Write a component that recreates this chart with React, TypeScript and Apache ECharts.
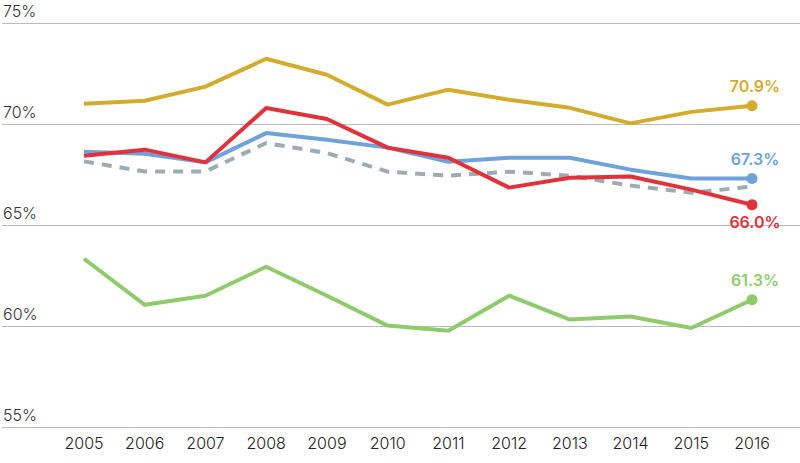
import React, { useEffect, useRef } from "react";
import * as echarts from "echarts";

const years = ["2005", "2006", "2007", "2008", "2009", "2010", "2011", "2012", "2013", "2014", "2015", "2016"];
const goldValues = [71.0, 71.15, 71.85, 73.23, 72.44, 70.96, 71.7, 71.2, 70.8, 70.03, 70.6, 70.9];
const blueValues = [68.63, 68.53, 68.1, 69.55, 69.22, 68.83, 68.13, 68.33, 68.33, 67.74, 67.3, 67.3];
const redValues = [68.43, 68.73, 68.1, 70.79, 70.25, 68.83, 68.33, 66.85, 67.34, 67.4, 66.75, 66.0];
const greyValues = [68.15, 67.65, 67.65, 69.06, 68.56, 67.64, 67.44, 67.64, 67.44, 66.95, 66.6, 66.9];
const greenValues = [63.33, 61.05, 61.5, 62.93, 61.5, 60.02, 59.77, 61.5, 60.32, 60.47, 59.9, 61.3];
const yTicks = [55, 60, 65, 70, 75];

const FONT = "Inter, 'Open Sans', sans-serif";

function endData(values: number[], color: string, labelPos: string | null) {
  return values.map((v, i) => {
    if (i !== values.length - 1 || labelPos === null) return v;
    return {
      value: v,
      symbol: "circle",
      symbolSize: 11,
      itemStyle: { color },
      label: {
        show: true,
        position: labelPos,
        distance: labelPos === "top" ? 6 : 4,
        offset: [3, 0],
        color,
        fontSize: 16,
        fontWeight: 600,
        fontFamily: FONT,
        formatter: () => v.toFixed(1) + "%",
      },
    };
  });
}

export default function App() {
  const ref = useRef<HTMLDivElement>(null);
  useEffect(() => {
    if (!ref.current) return;
    const chart = echarts.init(ref.current, null, { renderer: "svg" });
    const lineSeries = (name: string, values: number[], color: string, labelPos: string | null, dashed = false) => ({
      name,
      type: "line",
      xAxisIndex: 1,
      yAxisIndex: 1,
      symbol: "none",
      data: endData(values, color, labelPos),
      lineStyle: { color, width: 4, type: dashed ? [10, 8] : "solid", cap: "butt" },
      itemStyle: { color },
      emphasis: { disabled: true },
      z: dashed ? 1 : 2,
    });
    chart.setOption({
      animation: false,
      grid: [
        { left: 0, right: 0, top: 23, bottom: 36, containLabel: false },
        { left: 84, right: 48, top: 23, bottom: 36, containLabel: false },
      ],
      xAxis: [
        { type: "category", gridIndex: 0, data: years, show: false },
        {
          type: "category",
          gridIndex: 1,
          data: years,
          boundaryGap: false,
          axisLine: { show: false },
          axisTick: { show: false },
          axisLabel: { color: "#222", fontSize: 16, fontWeight: 300, fontFamily: FONT, margin: 8 },
        },
      ],
      yAxis: [
        {
          type: "value",
          gridIndex: 0,
          min: yTicks[0],
          max: yTicks[yTicks.length - 1],
          interval: 5,
          axisLine: { show: false },
          axisTick: { show: false },
          splitLine: { lineStyle: { color: "#bbbbbb", width: 1 } },
          axisLabel: {
            inside: true,
            margin: 1,
            align: "left",
            verticalAlign: "bottom",
            padding: [0, 0, 4, 0],
            color: "#333",
            fontSize: 16,
            fontWeight: 300,
            fontFamily: FONT,
            formatter: (v: number) => v + "%",
          },
        },
        {
          type: "value",
          gridIndex: 1,
          min: yTicks[0],
          max: yTicks[yTicks.length - 1],
          interval: 5,
          show: false,
          splitLine: { show: false },
        },
      ],
      series: [
        lineSeries("grey", greyValues, "#9eabb3", null, true),
        lineSeries("green", greenValues, "#8fcb6c", "top"),
        lineSeries("blue", blueValues, "#6fa2db", "top"),
        lineSeries("red", redValues, "#e0323a", "bottom"),
        lineSeries("gold", goldValues, "#d3ac2e", "top"),
      ],
    });
    return () => chart.dispose();
  }, []);
  return <div ref={ref} style={{ width: 800, height: 463, position: "absolute", left: 0, top: 0 }} />;
}
